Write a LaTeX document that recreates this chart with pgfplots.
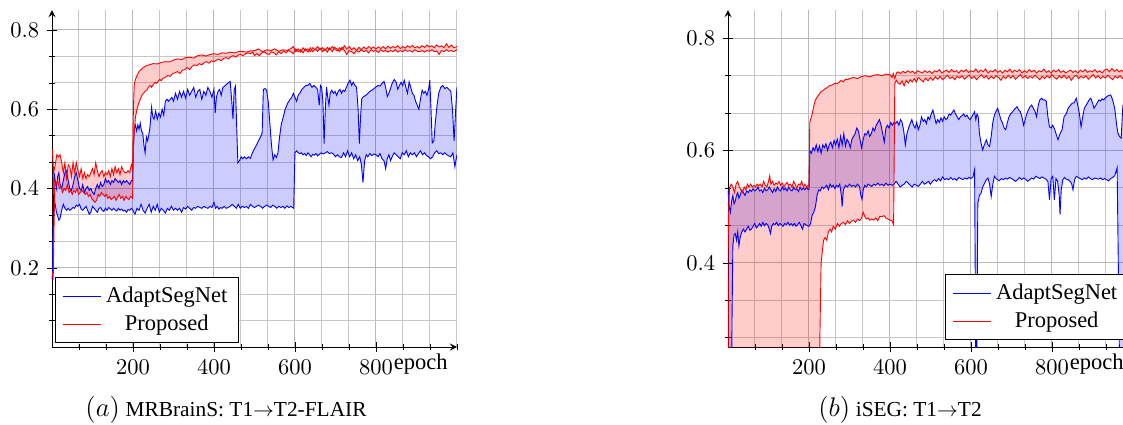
\documentclass[border=0pt]{standalone}
\usepackage{pgfplots}
\pgfplotsset{compat=1.18}
\usepackage{pgfplotstable}
\usepgfplotslibrary{fillbetween}
\usepackage{fontspec}
\setmainfont{Liberation Serif}

% ---------- panel (a): MRBrainS ----------
\pgfplotstableread[row sep=\\]{x y\\
1 0.50\\ 4 0.44\\ 8 0.46\\ 12 0.485\\ 16 0.48\\ 20 0.485\\ 24 0.465\\ 28 0.44\\ 32 0.465\\ 36 0.42\\ 40 0.46\\ 44 0.455\\ 48 0.43\\ 52 0.465\\ 56 0.44\\ 60 0.465\\ 64 0.445\\ 68 0.43\\ 72 0.45\\ 76 0.425\\ 80 0.44\\ 84 0.425\\ 88 0.435\\ 92 0.43\\ 96 0.44\\ 100 0.45\\ 104 0.435\\ 108 0.465\\ 112 0.445\\ 116 0.43\\ 120 0.44\\ 124 0.445\\ 128 0.43\\ 132 0.44\\ 136 0.435\\ 140 0.445\\ 144 0.43\\ 148 0.45\\ 152 0.435\\ 156 0.455\\ 160 0.44\\ 164 0.45\\ 168 0.435\\ 172 0.455\\ 176 0.445\\ 180 0.44\\ 184 0.44\\ 188 0.445\\ 192 0.44\\ 196 0.46\\ 199 0.45\\
201 0.60\\ 203 0.66\\ 206 0.675\\ 210 0.685\\ 215 0.695\\ 220 0.70\\ 225 0.705\\ 230 0.708\\ 240 0.712\\ 250 0.715\\ 260 0.714\\ 270 0.718\\ 280 0.72\\ 290 0.719\\ 300 0.724\\ 310 0.727\\ 320 0.725\\ 330 0.73\\ 340 0.731\\ 350 0.729\\ 360 0.735\\ 370 0.737\\ 380 0.734\\ 390 0.738\\ 400 0.74\\ 410 0.738\\ 420 0.742\\ 430 0.741\\ 440 0.744\\ 450 0.742\\ 460 0.745\\ 470 0.746\\ 480 0.744\\ 490 0.747\\
500 0.748\\ 510 0.752\\ 520 0.745\\ 530 0.75\\ 540 0.748\\ 550 0.752\\ 560 0.746\\ 570 0.75\\ 580 0.748\\ 590 0.753\\ 596 0.758\\ 602 0.745\\ 608 0.752\\ 614 0.744\\ 620 0.755\\ 626 0.748\\ 632 0.752\\ 638 0.745\\ 644 0.755\\ 650 0.75\\ 656 0.758\\ 662 0.75\\ 668 0.755\\ 674 0.748\\ 680 0.756\\ 686 0.75\\ 692 0.758\\ 698 0.752\\ 704 0.747\\ 710 0.755\\ 716 0.75\\ 722 0.76\\ 728 0.752\\ 734 0.758\\ 740 0.75\\ 746 0.755\\ 752 0.748\\ 758 0.756\\ 764 0.75\\ 770 0.757\\ 776 0.752\\ 782 0.758\\ 788 0.753\\ 794 0.757\\ 800 0.752\\ 806 0.757\\ 812 0.753\\ 818 0.758\\ 824 0.752\\ 830 0.759\\ 836 0.754\\ 842 0.758\\ 848 0.755\\ 854 0.76\\ 860 0.753\\ 866 0.758\\ 872 0.754\\ 878 0.76\\ 884 0.756\\ 890 0.761\\ 896 0.755\\ 902 0.758\\ 908 0.754\\ 914 0.76\\ 920 0.756\\ 926 0.762\\ 932 0.757\\ 938 0.76\\ 944 0.755\\ 950 0.762\\ 956 0.757\\ 962 0.76\\ 968 0.755\\ 974 0.765\\ 980 0.756\\ 986 0.762\\ 992 0.755\\ 1000 0.758\\
}\aPU

\pgfplotstableread[row sep=\\]{x y\\
1 0.19\\ 3 0.17\\ 5 0.30\\ 7 0.42\\ 10 0.41\\ 14 0.42\\ 18 0.40\\ 22 0.405\\ 26 0.39\\ 30 0.40\\ 34 0.395\\ 38 0.41\\ 42 0.39\\ 46 0.395\\ 50 0.385\\ 54 0.395\\ 58 0.39\\ 62 0.40\\ 66 0.385\\ 70 0.39\\ 74 0.395\\ 78 0.39\\ 82 0.385\\ 86 0.39\\ 90 0.38\\ 94 0.385\\ 98 0.375\\ 102 0.37\\ 106 0.365\\ 110 0.37\\ 114 0.385\\ 118 0.38\\ 122 0.39\\ 126 0.385\\ 130 0.38\\ 134 0.385\\ 138 0.375\\ 142 0.38\\ 146 0.372\\ 150 0.375\\ 154 0.38\\ 158 0.37\\ 162 0.378\\ 166 0.385\\ 170 0.375\\ 174 0.38\\ 178 0.37\\ 182 0.38\\ 186 0.375\\ 190 0.372\\ 194 0.38\\ 199 0.375\\
201 0.50\\ 203 0.54\\ 206 0.58\\ 210 0.60\\ 214 0.615\\ 218 0.625\\ 222 0.635\\ 226 0.64\\ 230 0.645\\ 234 0.648\\ 238 0.655\\ 242 0.66\\ 246 0.655\\ 250 0.662\\ 254 0.668\\ 258 0.665\\ 262 0.67\\ 266 0.675\\ 270 0.672\\ 274 0.678\\ 280 0.68\\ 286 0.685\\ 292 0.683\\ 298 0.69\\ 304 0.692\\ 310 0.695\\ 316 0.69\\ 322 0.698\\ 328 0.70\\ 334 0.705\\ 340 0.70\\ 346 0.708\\ 352 0.712\\ 358 0.71\\ 364 0.715\\ 370 0.712\\ 376 0.718\\ 382 0.72\\ 388 0.716\\ 394 0.722\\ 400 0.72\\ 406 0.724\\ 412 0.726\\ 418 0.722\\ 424 0.728\\ 430 0.73\\ 436 0.727\\ 442 0.733\\ 448 0.735\\ 454 0.731\\ 460 0.737\\ 466 0.738\\ 472 0.735\\ 478 0.74\\ 484 0.742\\ 490 0.74\\ 496 0.744\\
500 0.735\\ 506 0.74\\ 512 0.735\\ 518 0.742\\ 524 0.745\\ 530 0.74\\ 536 0.738\\ 542 0.745\\ 548 0.742\\ 554 0.737\\ 560 0.745\\ 566 0.74\\ 572 0.747\\ 578 0.742\\ 584 0.748\\ 590 0.745\\ 596 0.74\\ 602 0.752\\ 608 0.745\\ 614 0.75\\ 620 0.742\\ 626 0.752\\ 632 0.744\\ 638 0.755\\ 644 0.745\\ 650 0.752\\ 656 0.746\\ 662 0.754\\ 668 0.745\\ 674 0.752\\ 680 0.744\\ 686 0.755\\ 692 0.745\\ 698 0.756\\ 704 0.752\\ 710 0.745\\ 716 0.756\\ 722 0.748\\ 728 0.738\\ 734 0.748\\ 740 0.745\\ 746 0.74\\ 752 0.748\\ 758 0.744\\ 764 0.75\\ 770 0.745\\ 776 0.748\\ 782 0.742\\ 788 0.75\\ 794 0.746\\ 800 0.748\\ 806 0.743\\ 812 0.75\\ 818 0.745\\ 824 0.748\\ 830 0.744\\ 836 0.748\\ 842 0.745\\ 848 0.75\\ 854 0.744\\ 860 0.748\\ 866 0.745\\ 872 0.75\\ 878 0.746\\ 884 0.748\\ 890 0.744\\ 896 0.75\\ 902 0.746\\ 908 0.745\\ 914 0.748\\ 920 0.744\\ 926 0.748\\ 932 0.746\\ 938 0.75\\ 944 0.745\\ 950 0.747\\ 956 0.738\\ 962 0.748\\ 968 0.745\\ 974 0.75\\ 980 0.746\\ 986 0.748\\ 992 0.745\\ 1000 0.75\\
}\aPL

\pgfplotstableread[row sep=\\]{x y\\
1 0.17\\ 3 0.30\\ 5 0.44\\ 8 0.42\\ 11 0.40\\ 14 0.43\\ 17 0.44\\ 20 0.41\\ 24 0.40\\ 28 0.42\\ 32 0.44\\ 36 0.445\\ 40 0.42\\ 44 0.40\\ 48 0.395\\ 52 0.41\\ 56 0.43\\ 60 0.44\\ 64 0.42\\ 68 0.40\\ 72 0.395\\ 76 0.41\\ 80 0.39\\ 84 0.40\\ 88 0.405\\ 92 0.395\\ 96 0.40\\ 100 0.39\\ 104 0.385\\ 108 0.40\\ 112 0.41\\ 116 0.40\\ 120 0.415\\ 124 0.405\\ 128 0.41\\ 132 0.425\\ 136 0.415\\ 140 0.42\\ 144 0.41\\ 148 0.42\\ 152 0.415\\ 156 0.425\\ 160 0.42\\ 164 0.415\\ 168 0.42\\ 172 0.41\\ 176 0.42\\ 180 0.415\\ 184 0.42\\ 188 0.415\\ 192 0.41\\ 196 0.42\\ 199 0.42\\
201 0.50\\ 203 0.55\\ 206 0.56\\ 209 0.545\\ 212 0.56\\ 215 0.55\\ 218 0.565\\ 221 0.545\\ 224 0.54\\ 227 0.51\\ 230 0.49\\ 233 0.53\\ 236 0.52\\ 239 0.535\\ 242 0.555\\ 246 0.605\\ 249 0.58\\ 252 0.575\\ 256 0.595\\ 260 0.575\\ 264 0.59\\ 268 0.58\\ 272 0.60\\ 276 0.585\\ 280 0.62\\ 284 0.625\\ 288 0.62\\ 292 0.625\\ 296 0.63\\ 300 0.62\\ 305 0.64\\ 310 0.625\\ 315 0.645\\ 320 0.63\\ 325 0.645\\ 330 0.628\\ 335 0.65\\ 340 0.635\\ 345 0.645\\ 350 0.655\\ 355 0.63\\ 360 0.645\\ 365 0.65\\ 370 0.625\\ 375 0.645\\ 380 0.635\\ 385 0.655\\ 390 0.645\\ 395 0.63\\ 400 0.65\\ 403 0.59\\ 406 0.63\\ 410 0.645\\ 414 0.65\\ 418 0.635\\ 422 0.655\\ 426 0.658\\ 430 0.662\\ 435 0.666\\ 440 0.670\\ 444 0.62\\ 447 0.575\\ 450 0.65\\ 453 0.658\\ 456 0.56\\ 459 0.465\\ 463 0.47\\ 467 0.48\\ 471 0.475\\ 475 0.48\\ 480 0.475\\ 485 0.48\\ 490 0.476\\ 495 0.49\\ 500 0.50\\ 505 0.51\\ 510 0.52\\ 515 0.53\\ 519 0.54\\ 522 0.65\\ 526 0.652\\ 530 0.648\\ 534 0.62\\ 538 0.565\\ 542 0.51\\ 546 0.472\\ 550 0.485\\ 554 0.478\\ 558 0.49\\ 562 0.53\\ 566 0.56\\ 571 0.58\\ 576 0.60\\ 582 0.615\\ 588 0.625\\ 592 0.63\\ 596 0.64\\ 600 0.63\\ 604 0.62\\ 608 0.635\\ 612 0.64\\ 617 0.65\\ 622 0.655\\ 627 0.66\\ 632 0.66\\ 637 0.665\\ 642 0.655\\ 647 0.66\\ 652 0.655\\ 656 0.65\\ 660 0.61\\ 663 0.66\\ 666 0.655\\ 669 0.62\\ 672 0.513\\ 675 0.60\\ 678 0.656\\ 681 0.63\\ 684 0.61\\ 687 0.64\\ 691 0.648\\ 695 0.64\\ 699 0.645\\ 703 0.635\\ 707 0.645\\ 711 0.65\\ 715 0.64\\ 719 0.648\\ 723 0.645\\ 727 0.655\\ 731 0.665\\ 736 0.673\\ 740 0.66\\ 744 0.668\\ 748 0.66\\ 752 0.656\\ 756 0.60\\ 759 0.513\\ 762 0.58\\ 765 0.627\\ 770 0.632\\ 775 0.635\\ 780 0.64\\ 785 0.645\\ 790 0.648\\ 795 0.652\\ 800 0.656\\ 805 0.66\\ 810 0.658\\ 815 0.665\\ 820 0.67\\ 824 0.655\\ 828 0.632\\ 832 0.64\\ 836 0.652\\ 840 0.665\\ 845 0.675\\ 850 0.668\\ 854 0.65\\ 858 0.66\\ 862 0.668\\ 866 0.66\\ 870 0.673\\ 874 0.655\\ 878 0.64\\ 882 0.669\\ 886 0.655\\ 890 0.64\\ 894 0.635\\ 898 0.62\\ 902 0.61\\ 906 0.60\\ 910 0.625\\ 914 0.648\\ 918 0.64\\ 922 0.645\\ 926 0.635\\ 930 0.65\\ 933 0.673\\ 936 0.60\\ 939 0.515\\ 943 0.52\\ 947 0.57\\ 951 0.61\\ 955 0.64\\ 960 0.655\\ 965 0.66\\ 970 0.652\\ 975 0.655\\ 980 0.65\\ 985 0.645\\ 989 0.60\\ 993 0.52\\ 997 0.60\\ 1000 0.655\\
}\aAU

\pgfplotstableread[row sep=\\]{x y\\
1 0.17\\ 3 0.30\\ 5 0.37\\ 8 0.36\\ 11 0.34\\ 14 0.33\\ 17 0.32\\ 20 0.325\\ 24 0.345\\ 28 0.36\\ 32 0.35\\ 36 0.345\\ 40 0.35\\ 44 0.345\\ 48 0.348\\ 52 0.352\\ 56 0.35\\ 60 0.358\\ 64 0.355\\ 68 0.36\\ 72 0.348\\ 76 0.345\\ 80 0.35\\ 84 0.355\\ 88 0.345\\ 92 0.335\\ 96 0.34\\ 100 0.355\\ 104 0.35\\ 108 0.345\\ 112 0.34\\ 116 0.35\\ 120 0.352\\ 124 0.345\\ 128 0.342\\ 132 0.35\\ 136 0.345\\ 140 0.352\\ 144 0.348\\ 148 0.345\\ 152 0.35\\ 156 0.346\\ 160 0.343\\ 164 0.35\\ 168 0.345\\ 172 0.348\\ 176 0.343\\ 180 0.345\\ 184 0.34\\ 188 0.347\\ 192 0.345\\ 196 0.35\\ 200 0.345\\ 205 0.335\\ 210 0.35\\ 215 0.345\\ 220 0.36\\ 225 0.345\\ 230 0.338\\ 235 0.35\\ 240 0.36\\ 245 0.34\\ 250 0.355\\ 255 0.345\\ 260 0.36\\ 265 0.34\\ 270 0.35\\ 275 0.345\\ 280 0.338\\ 285 0.35\\ 290 0.345\\ 295 0.355\\ 300 0.345\\ 305 0.35\\ 310 0.345\\ 315 0.35\\ 320 0.34\\ 325 0.352\\ 330 0.348\\ 335 0.355\\ 340 0.35\\ 345 0.345\\ 350 0.352\\ 355 0.35\\ 360 0.355\\ 365 0.352\\ 370 0.35\\ 375 0.355\\ 380 0.352\\ 385 0.35\\ 390 0.355\\ 395 0.352\\ 400 0.365\\ 404 0.35\\ 408 0.355\\ 412 0.348\\ 416 0.352\\ 420 0.35\\ 425 0.355\\ 430 0.35\\ 435 0.352\\ 440 0.355\\ 445 0.36\\ 450 0.355\\ 455 0.35\\ 460 0.36\\ 465 0.35\\ 470 0.355\\ 475 0.352\\ 480 0.355\\ 485 0.35\\ 490 0.36\\ 495 0.355\\ 500 0.352\\ 505 0.355\\ 510 0.358\\ 515 0.355\\ 520 0.35\\ 525 0.355\\ 530 0.358\\ 535 0.355\\ 540 0.352\\ 545 0.358\\ 550 0.355\\ 555 0.35\\ 560 0.355\\ 565 0.352\\ 570 0.355\\ 575 0.35\\ 580 0.356\\ 585 0.352\\ 590 0.355\\ 594 0.352\\ 597 0.35\\
600 0.49\\ 604 0.495\\ 608 0.49\\ 612 0.488\\ 616 0.49\\ 620 0.485\\ 624 0.488\\ 628 0.483\\ 632 0.49\\ 636 0.485\\ 640 0.48\\ 644 0.486\\ 648 0.484\\ 652 0.488\\ 656 0.482\\ 660 0.486\\ 665 0.49\\ 670 0.487\\ 675 0.49\\ 680 0.493\\ 685 0.488\\ 690 0.49\\ 695 0.487\\ 700 0.48\\ 705 0.485\\ 710 0.48\\ 715 0.478\\ 720 0.49\\ 725 0.48\\ 730 0.495\\ 735 0.48\\ 740 0.49\\ 745 0.475\\ 750 0.485\\ 755 0.47\\ 760 0.48\\ 764 0.46\\ 768 0.415\\ 772 0.47\\ 776 0.485\\ 780 0.48\\ 785 0.488\\ 790 0.483\\ 795 0.487\\ 800 0.485\\ 805 0.48\\ 810 0.488\\ 815 0.475\\ 820 0.47\\ 824 0.45\\ 828 0.475\\ 832 0.485\\ 836 0.47\\ 840 0.48\\ 845 0.49\\ 850 0.485\\ 855 0.48\\ 860 0.475\\ 865 0.49\\ 870 0.485\\ 875 0.495\\ 880 0.48\\ 885 0.49\\ 890 0.485\\ 895 0.49\\ 900 0.48\\ 905 0.488\\ 910 0.495\\ 915 0.485\\ 920 0.49\\ 925 0.483\\ 930 0.48\\ 935 0.475\\ 940 0.48\\ 945 0.49\\ 950 0.495\\ 955 0.488\\ 960 0.49\\ 965 0.485\\ 970 0.49\\ 975 0.485\\ 980 0.482\\ 985 0.48\\ 990 0.49\\ 995 0.455\\ 1000 0.485\\
}\aAL

% ---------- panel (b): iSEG ----------
\pgfplotstableread[row sep=\\]{x y\\
0 0.42\\ 2 0.50\\ 4 0.535\\ 8 0.54\\ 12 0.535\\ 16 0.525\\ 20 0.54\\ 24 0.545\\ 28 0.535\\ 32 0.53\\ 36 0.525\\ 40 0.535\\ 44 0.53\\ 48 0.54\\ 52 0.535\\ 56 0.54\\ 60 0.535\\ 64 0.538\\ 68 0.535\\ 72 0.54\\ 76 0.537\\ 80 0.54\\ 84 0.535\\ 88 0.545\\ 92 0.538\\ 96 0.535\\ 100 0.545\\ 103 0.555\\ 106 0.54\\ 110 0.545\\ 114 0.538\\ 118 0.542\\ 122 0.54\\ 126 0.545\\ 130 0.538\\ 134 0.542\\ 138 0.535\\ 142 0.54\\ 146 0.543\\ 150 0.538\\ 154 0.54\\ 158 0.535\\ 162 0.545\\ 166 0.54\\ 170 0.533\\ 174 0.54\\ 178 0.538\\ 182 0.545\\ 186 0.535\\ 190 0.54\\ 194 0.535\\ 198 0.538\\ 200 0.535\\
202 0.65\\ 205 0.658\\ 208 0.665\\ 212 0.68\\ 216 0.69\\ 220 0.695\\ 225 0.70\\ 230 0.705\\ 235 0.707\\ 240 0.71\\ 245 0.712\\ 250 0.715\\ 255 0.716\\ 260 0.718\\ 265 0.72\\ 270 0.719\\ 275 0.722\\ 280 0.725\\ 285 0.722\\ 290 0.727\\ 295 0.726\\ 300 0.728\\ 310 0.73\\ 320 0.728\\ 330 0.732\\ 340 0.733\\ 350 0.731\\ 360 0.734\\ 370 0.735\\ 380 0.733\\ 390 0.736\\ 400 0.735\\ 405 0.73\\ 408 0.737\\ 412 0.728\\ 416 0.738\\ 420 0.74\\ 426 0.737\\ 432 0.741\\ 438 0.738\\ 444 0.742\\ 450 0.739\\ 456 0.741\\ 462 0.737\\ 468 0.742\\ 474 0.74\\ 480 0.738\\ 486 0.742\\ 492 0.739\\ 498 0.741\\ 504 0.737\\ 510 0.742\\ 516 0.74\\ 522 0.744\\ 528 0.738\\ 534 0.741\\ 540 0.743\\ 546 0.739\\ 552 0.744\\ 558 0.74\\ 564 0.742\\ 570 0.738\\ 576 0.743\\ 582 0.74\\ 588 0.744\\ 594 0.739\\ 600 0.742\\ 606 0.74\\ 612 0.745\\ 618 0.739\\ 624 0.743\\ 630 0.74\\ 636 0.745\\ 642 0.738\\ 648 0.742\\ 654 0.74\\ 660 0.744\\ 666 0.739\\ 672 0.742\\ 678 0.738\\ 684 0.743\\ 690 0.74\\ 696 0.745\\ 702 0.739\\ 708 0.743\\ 714 0.74\\ 720 0.744\\ 726 0.738\\ 732 0.742\\ 738 0.739\\ 744 0.744\\ 750 0.74\\ 756 0.743\\ 762 0.738\\ 768 0.742\\ 774 0.74\\ 780 0.745\\ 786 0.739\\ 792 0.742\\ 798 0.738\\ 804 0.743\\ 810 0.74\\ 816 0.744\\ 822 0.739\\ 828 0.742\\ 834 0.738\\ 840 0.741\\ 846 0.743\\ 852 0.739\\ 858 0.742\\ 864 0.738\\ 870 0.743\\ 876 0.74\\ 882 0.744\\ 888 0.739\\ 894 0.742\\ 900 0.74\\ 906 0.744\\ 912 0.739\\ 918 0.742\\ 924 0.738\\ 930 0.743\\ 936 0.745\\ 942 0.74\\ 948 0.746\\ 954 0.741\\ 960 0.744\\ 966 0.74\\ 972 0.743\\ 978 0.739\\ 984 0.742\\ 990 0.74\\ 1000 0.742\\
}\bPU

\pgfplotstableread[row sep=\\]{x y\\
0 0.42\\ 1 0.10\\ 225 0.10\\ 227 0.27\\ 230 0.40\\ 233 0.42\\ 236 0.44\\ 240 0.445\\ 244 0.44\\ 248 0.455\\ 252 0.46\\ 256 0.455\\ 260 0.465\\ 265 0.46\\ 270 0.47\\ 275 0.465\\ 280 0.47\\ 285 0.472\\ 290 0.468\\ 295 0.475\\ 300 0.47\\ 305 0.474\\ 310 0.476\\ 315 0.472\\ 320 0.478\\ 325 0.475\\ 330 0.48\\ 334 0.49\\ 338 0.482\\ 342 0.478\\ 346 0.48\\ 350 0.476\\ 355 0.478\\ 360 0.476\\ 365 0.48\\ 370 0.475\\ 375 0.483\\ 380 0.482\\ 385 0.484\\ 390 0.48\\ 395 0.478\\ 400 0.476\\ 405 0.475\\ 409 0.468\\
412 0.72\\ 416 0.725\\ 420 0.72\\ 425 0.718\\ 430 0.724\\ 435 0.715\\ 440 0.725\\ 445 0.72\\ 450 0.726\\ 455 0.722\\ 460 0.728\\ 465 0.722\\ 470 0.73\\ 476 0.726\\ 482 0.722\\ 488 0.729\\ 494 0.724\\ 500 0.73\\ 506 0.725\\ 512 0.731\\ 518 0.727\\ 524 0.732\\ 530 0.726\\ 536 0.73\\ 542 0.734\\ 548 0.728\\ 554 0.731\\ 560 0.726\\ 566 0.732\\ 572 0.729\\ 578 0.733\\ 584 0.727\\ 590 0.731\\ 596 0.734\\ 602 0.728\\ 608 0.732\\ 614 0.726\\ 620 0.731\\ 626 0.735\\ 632 0.729\\ 638 0.733\\ 644 0.727\\ 650 0.732\\ 656 0.728\\ 662 0.733\\ 668 0.73\\ 674 0.725\\ 680 0.732\\ 686 0.728\\ 692 0.734\\ 698 0.729\\ 704 0.733\\ 710 0.727\\ 716 0.731\\ 722 0.735\\ 728 0.729\\ 734 0.733\\ 740 0.728\\ 746 0.732\\ 752 0.729\\ 758 0.734\\ 764 0.73\\ 770 0.726\\ 776 0.732\\ 782 0.728\\ 788 0.733\\ 794 0.729\\ 800 0.735\\ 806 0.73\\ 812 0.727\\ 818 0.733\\ 824 0.729\\ 830 0.734\\ 836 0.728\\ 842 0.732\\ 848 0.725\\ 854 0.731\\ 860 0.734\\ 866 0.728\\ 872 0.732\\ 878 0.729\\ 884 0.733\\ 890 0.727\\ 896 0.731\\ 902 0.735\\ 908 0.729\\ 914 0.733\\ 920 0.728\\ 926 0.732\\ 932 0.729\\ 938 0.734\\ 944 0.73\\ 950 0.726\\ 956 0.732\\ 962 0.729\\ 968 0.733\\ 974 0.728\\ 980 0.732\\ 990 0.73\\ 1000 0.732\\
}\bPL

\pgfplotstableread[row sep=\\]{x y\\
0 0.53\\ 3 0.50\\ 6 0.49\\ 9 0.51\\ 12 0.52\\ 15 0.505\\ 18 0.51\\ 21 0.52\\ 24 0.525\\ 27 0.515\\ 30 0.52\\ 34 0.53\\ 38 0.525\\ 42 0.52\\ 46 0.528\\ 50 0.525\\ 54 0.53\\ 58 0.527\\ 62 0.532\\ 66 0.528\\ 70 0.53\\ 74 0.535\\ 78 0.528\\ 82 0.53\\ 86 0.525\\ 90 0.533\\ 94 0.528\\ 98 0.53\\ 102 0.535\\ 106 0.53\\ 110 0.525\\ 114 0.532\\ 118 0.527\\ 122 0.535\\ 126 0.53\\ 130 0.528\\ 134 0.535\\ 138 0.53\\ 142 0.533\\ 146 0.528\\ 150 0.535\\ 154 0.53\\ 158 0.528\\ 162 0.535\\ 166 0.53\\ 170 0.532\\ 174 0.527\\ 178 0.535\\ 182 0.53\\ 186 0.533\\ 190 0.53\\ 194 0.535\\ 198 0.53\\ 200 0.53\\
202 0.60\\ 206 0.595\\ 210 0.605\\ 214 0.60\\ 218 0.61\\ 222 0.598\\ 226 0.608\\ 230 0.595\\ 234 0.61\\ 238 0.605\\ 242 0.612\\ 246 0.60\\ 250 0.61\\ 254 0.615\\ 258 0.605\\ 262 0.618\\ 266 0.61\\ 270 0.62\\ 274 0.605\\ 278 0.625\\ 282 0.61\\ 286 0.63\\ 290 0.608\\ 294 0.62\\ 298 0.615\\ 302 0.605\\ 306 0.62\\ 310 0.625\\ 314 0.63\\ 318 0.64\\ 322 0.635\\ 326 0.62\\ 330 0.605\\ 334 0.62\\ 338 0.63\\ 342 0.628\\ 346 0.635\\ 350 0.625\\ 354 0.63\\ 358 0.64\\ 362 0.635\\ 366 0.645\\ 370 0.65\\ 374 0.655\\ 378 0.645\\ 382 0.63\\ 386 0.615\\ 390 0.64\\ 394 0.645\\ 398 0.64\\ 402 0.65\\ 406 0.645\\ 410 0.65\\ 414 0.648\\ 418 0.652\\ 422 0.645\\ 426 0.655\\ 430 0.65\\ 434 0.635\\ 438 0.61\\ 442 0.63\\ 446 0.64\\ 450 0.648\\ 454 0.655\\ 458 0.645\\ 462 0.64\\ 466 0.65\\ 470 0.637\\ 474 0.645\\ 478 0.66\\ 482 0.652\\ 486 0.655\\ 490 0.648\\ 494 0.66\\ 498 0.655\\ 502 0.665\\ 506 0.672\\ 510 0.66\\ 514 0.648\\ 518 0.655\\ 522 0.65\\ 526 0.658\\ 530 0.652\\ 534 0.66\\ 538 0.655\\ 542 0.658\\ 546 0.665\\ 550 0.663\\ 554 0.668\\ 558 0.672\\ 562 0.665\\ 566 0.66\\ 570 0.655\\ 574 0.66\\ 578 0.662\\ 582 0.665\\ 586 0.66\\ 590 0.663\\ 594 0.658\\ 598 0.655\\ 602 0.66\\ 606 0.665\\ 609 0.669\\ 612 0.655\\ 615 0.665\\ 618 0.66\\ 621 0.63\\ 625 0.613\\ 629 0.601\\ 633 0.61\\ 638 0.619\\ 642 0.61\\ 646 0.607\\ 650 0.625\\ 654 0.65\\ 658 0.663\\ 662 0.67\\ 666 0.675\\ 670 0.665\\ 674 0.655\\ 678 0.649\\ 682 0.64\\ 686 0.637\\ 690 0.65\\ 694 0.66\\ 698 0.665\\ 702 0.668\\ 706 0.672\\ 710 0.675\\ 714 0.678\\ 718 0.672\\ 722 0.669\\ 726 0.66\\ 730 0.645\\ 734 0.655\\ 738 0.666\\ 742 0.672\\ 746 0.678\\ 750 0.681\\ 754 0.675\\ 758 0.67\\ 762 0.66\\ 766 0.68\\ 770 0.69\\ 774 0.693\\ 778 0.69\\ 782 0.69\\ 786 0.688\\ 790 0.66\\ 794 0.642\\ 798 0.64\\ 802 0.645\\ 806 0.639\\ 810 0.63\\ 815 0.619\\ 820 0.63\\ 825 0.637\\ 830 0.66\\ 835 0.665\\ 840 0.675\\ 845 0.68\\ 850 0.684\\ 855 0.685\\ 860 0.693\\ 864 0.68\\ 868 0.665\\ 872 0.642\\ 876 0.66\\ 880 0.675\\ 884 0.68\\ 888 0.685\\ 892 0.69\\ 896 0.693\\ 900 0.685\\ 904 0.675\\ 908 0.68\\ 912 0.685\\ 916 0.69\\ 920 0.688\\ 924 0.692\\ 928 0.69\\ 932 0.694\\ 936 0.696\\ 940 0.698\\ 945 0.699\\ 950 0.69\\ 955 0.675\\ 960 0.645\\ 963 0.631\\ 967 0.625\\ 971 0.622\\ 975 0.678\\ 980 0.67\\ 985 0.665\\ 990 0.672\\ 995 0.668\\ 1000 0.67\\
}\bAU

\pgfplotstableread[row sep=\\]{x y\\
0 0.10\\ 8 0.10\\ 10 0.30\\ 12 0.43\\ 15 0.45\\ 18 0.452\\ 21 0.44\\ 24 0.455\\ 27 0.43\\ 30 0.445\\ 34 0.455\\ 38 0.46\\ 42 0.455\\ 46 0.46\\ 50 0.465\\ 54 0.458\\ 58 0.46\\ 62 0.465\\ 66 0.47\\ 70 0.462\\ 74 0.465\\ 78 0.47\\ 82 0.465\\ 86 0.472\\ 90 0.466\\ 94 0.47\\ 98 0.468\\ 102 0.46\\ 105 0.452\\ 108 0.465\\ 112 0.47\\ 116 0.468\\ 120 0.472\\ 124 0.466\\ 128 0.47\\ 132 0.468\\ 136 0.465\\ 140 0.47\\ 144 0.468\\ 148 0.472\\ 152 0.467\\ 156 0.47\\ 160 0.466\\ 164 0.47\\ 168 0.465\\ 172 0.468\\ 176 0.472\\ 180 0.466\\ 184 0.46\\ 188 0.47\\ 192 0.468\\ 196 0.466\\ 200 0.465\\ 204 0.47\\ 208 0.485\\ 212 0.49\\ 216 0.50\\ 220 0.52\\ 224 0.53\\ 228 0.528\\ 232 0.535\\ 236 0.532\\ 240 0.535\\ 244 0.538\\ 248 0.53\\ 252 0.54\\ 256 0.535\\ 260 0.538\\ 264 0.532\\ 268 0.538\\ 272 0.535\\ 276 0.54\\ 280 0.52\\ 282 0.50\\ 285 0.53\\ 290 0.538\\ 295 0.535\\ 300 0.54\\ 305 0.536\\ 310 0.538\\ 315 0.535\\ 320 0.54\\ 325 0.535\\ 328 0.52\\ 331 0.513\\ 334 0.53\\ 338 0.538\\ 342 0.535\\ 346 0.54\\ 350 0.538\\ 355 0.536\\ 360 0.54\\ 365 0.538\\ 370 0.542\\ 375 0.538\\ 380 0.54\\ 385 0.537\\ 390 0.542\\ 395 0.538\\ 400 0.54\\ 405 0.538\\ 410 0.54\\ 415 0.545\\ 420 0.54\\ 425 0.535\\ 430 0.538\\ 435 0.54\\ 440 0.545\\ 445 0.542\\ 450 0.538\\ 455 0.535\\ 460 0.54\\ 465 0.538\\ 470 0.536\\ 475 0.54\\ 480 0.545\\ 485 0.54\\ 490 0.542\\ 495 0.545\\ 500 0.54\\ 505 0.545\\ 510 0.548\\ 515 0.545\\ 520 0.55\\ 525 0.546\\ 530 0.553\\ 535 0.548\\ 540 0.55\\ 545 0.548\\ 550 0.552\\ 555 0.548\\ 560 0.55\\ 565 0.547\\ 570 0.552\\ 575 0.55\\ 580 0.548\\ 585 0.551\\ 590 0.549\\ 595 0.552\\ 600 0.55\\ 605 0.553\\ 609 0.566\\ 613 0.10\\ 617 0.506\\ 621 0.52\\ 625 0.524\\ 629 0.535\\ 634 0.542\\ 638 0.548\\ 642 0.551\\ 646 0.54\\ 650 0.518\\ 654 0.54\\ 658 0.554\\ 662 0.55\\ 666 0.548\\ 670 0.546\\ 675 0.55\\ 680 0.548\\ 685 0.551\\ 690 0.549\\ 695 0.552\\ 700 0.55\\ 705 0.548\\ 710 0.545\\ 715 0.548\\ 720 0.552\\ 725 0.548\\ 730 0.551\\ 735 0.549\\ 740 0.545\\ 745 0.548\\ 750 0.551\\ 755 0.549\\ 760 0.554\\ 765 0.552\\ 770 0.55\\ 775 0.553\\ 780 0.551\\ 785 0.549\\ 790 0.545\\ 794 0.512\\ 798 0.55\\ 802 0.554\\ 806 0.512\\ 810 0.55\\ 814 0.545\\ 818 0.52\\ 820 0.486\\ 823 0.53\\ 827 0.548\\ 831 0.552\\ 835 0.549\\ 840 0.548\\ 845 0.545\\ 849 0.54\\ 852 0.53\\ 856 0.548\\ 860 0.554\\ 865 0.552\\ 870 0.55\\ 875 0.548\\ 880 0.551\\ 885 0.549\\ 890 0.553\\ 895 0.55\\ 900 0.548\\ 905 0.551\\ 910 0.55\\ 915 0.549\\ 920 0.551\\ 925 0.548\\ 930 0.55\\ 935 0.548\\ 940 0.546\\ 945 0.55\\ 950 0.552\\ 955 0.555\\ 961 0.569\\ 969 0.10\\ 978 0.10\\ 984 0.55\\ 990 0.552\\ 1000 0.55\\
}\bAL

\pgfplotsset{
  panel/.style={
    scale only axis, width=180pt, height=149.8pt,
    axis lines=middle,
    xmin=0, xmax=1000,
    ymax=0.85,
    grid=both,
    major grid style={black!28, line width=0.45pt},
    minor grid style={black!22, line width=0.45pt},
    xtick={200,400,600,800},
    minor xtick={66.67,133.33,266.67,333.33,466.67,533.33,666.67,733.33,866.67,933.33,1000},
    xlabel={epoch},
    xlabel style={at={(rel axis cs:0.978,0)}, anchor=base east, yshift=-9.8pt, inner sep=0pt},
    legend cell align=center,
    legend style={font=\normalsize, draw=black, fill=white},
    tick style={black},
  },
  curve/.style={line width=0.4pt},
}

\begin{document}
\begin{tikzpicture}
% ---------- (a) ----------
\begin{axis}[panel, at={(23.11pt,34.23pt)}, anchor=south west,
  ymin=0,
  ytick={0.2,0.4,0.6,0.8},
  minor ytick={0.0667,0.1333,0.2667,0.3333,0.4667,0.5333,0.6667,0.7333},
  legend style={at={(0.008,0.012)}, anchor=south west},
]
\addlegendimage{blue, curve}\addlegendentry{AdaptSegNet}
\addlegendimage{red, curve}\addlegendentry{Proposed}
\addplot[blue, curve, name path=aau, forget plot] table {\aAU};
\addplot[blue, curve, name path=aal, forget plot] table {\aAL};
\addplot[fill=blue, fill opacity=0.2, draw=none, forget plot] fill between[of=aau and aal];
\addplot[red, curve, name path=apu, forget plot] table {\aPU};
\addplot[red, curve, name path=apl, forget plot] table {\aPL};
\addplot[fill=red, fill opacity=0.2, draw=none, forget plot] fill between[of=apu and apl];
\end{axis}

% ---------- (b) ----------
\begin{axis}[panel, at={(323.6pt,34.23pt)}, anchor=south west,
  ymin=0.25,
  ytick={0.4,0.6,0.8},
  minor ytick={0.2667,0.3333,0.4667,0.5333,0.6667,0.7333},
  legend style={at={(0.536,0.02)}, anchor=south west},
]
\addlegendimage{blue, curve}\addlegendentry{AdaptSegNet}
\addlegendimage{red, curve}\addlegendentry{Proposed}
\addplot[blue, curve, name path=bau, forget plot] table {\bAU};
\addplot[blue, curve, name path=bal, forget plot] table {\bAL};
\addplot[fill=blue, fill opacity=0.2, draw=none, forget plot] fill between[of=bau and bal];
\addplot[red, curve, name path=bpu, forget plot] table {\bPU};
\addplot[red, curve, name path=bpl, forget plot] table {\bPL};
\addplot[fill=red, fill opacity=0.2, draw=none, forget plot] fill between[of=bpu and bpl];
\end{axis}

% captions
\node[anchor=base west, inner sep=0pt] at (37.8pt,3.2pt)
  {{\large$(a)$} {\fontsize{9.5}{11}\selectfont MRBrainS: T1$\rightarrow$T2-FLAIR}};
\node[anchor=base west, inner sep=0pt] at (363.6pt,3.2pt)
  {{\large$(b)$} {\fontsize{9.5}{11}\selectfont iSEG: T1$\rightarrow$T2}};

\pgfresetboundingbox
\useasboundingbox (0,0) rectangle (499.2pt,188.5pt);
\end{tikzpicture}
\end{document}
